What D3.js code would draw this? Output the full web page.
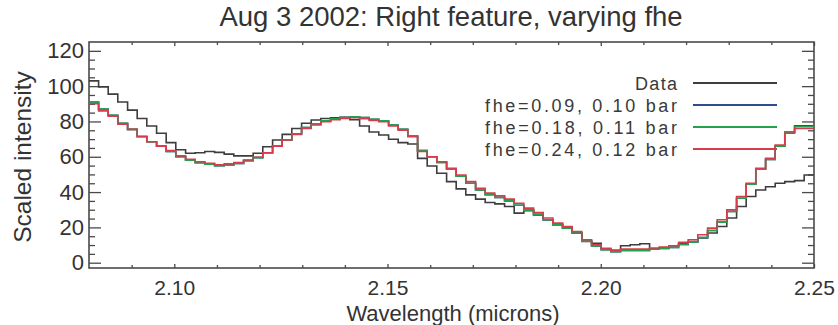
<!DOCTYPE html>
<html><head><meta charset="utf-8">
<script src="https://cdn.jsdelivr.net/npm/d3@7"></script>
<style>html,body{margin:0;padding:0;background:#fff;} svg{display:block;}</style>
</head><body><svg id="c" width="838" height="325"></svg>
<script>
const wavelengths = [2.0811,2.0834,2.0856,2.0879,2.0902,2.0924,2.0947,2.0970,2.0992,2.1015,
2.1038,2.1060,2.1083,2.1106,2.1128,2.1151,2.1174,2.1196,2.1219,2.1242,
2.1264,2.1287,2.1310,2.1332,2.1355,2.1378,2.1400,2.1423,2.1446,2.1468,
2.1491,2.1514,2.1536,2.1559,2.1582,2.1604,2.1627,2.1650,2.1672,2.1695,
2.1718,2.1740,2.1763,2.1786,2.1808,2.1831,2.1854,2.1876,2.1899,2.1922,
2.1944,2.1967,2.1990,2.2012,2.2035,2.2058,2.2080,2.2103,2.2126,2.2148,
2.2171,2.2194,2.2216,2.2239,2.2262,2.2284,2.2307,2.2330,2.2352,2.2375,
2.2398,2.2420,2.2443,2.2466,2.2488];
const dataValues = [103,99.6,95.5,91,86.4,81.7,77.4,73.3,68,64,
62,62.3,63,62.5,61.5,60.5,60.5,62,65.7,69.5,
72.7,76,79,80.8,81.7,82,82.3,81,77.4,74,
72.3,69.9,68,67.2,59.1,54.8,50.7,45.9,41.8,38.4,
36,34.1,33.3,31.8,28.1,29.5,27.1,24.3,22,19.6,
16.8,12,11,8,7,9.6,10.2,10.7,7.7,8.3,
9.6,10.7,12,14,16.8,20.5,25.3,31.8,37.5,41.2,
43,45,45.9,46.5,49.7];
const fit009 = [91,87,83.5,79,75.5,71.5,68.5,66,63,60,
58,56.7,55.8,55,55.4,56.2,57.8,59.5,62.3,66,
69.5,73,76.5,78.5,80.3,81.5,82.2,82.6,82.2,81.2,
80.3,78,75.6,71.8,63.5,60,56.8,53,49,45,
41.2,38.5,37,35,32.5,29.8,27.4,24.3,21.4,19.5,
16.8,12.2,9.5,7.3,6.3,6.9,6.9,7,7.6,8.1,
8.7,10.3,11.8,14.3,18.2,23,29,36.5,44.5,53,
58.5,66,74,77.5,77.5];
const fit018 = [91,87,83.5,79,75.5,71.5,68.5,66,63,60,
58,56.7,55.8,55,55.4,56.2,57.8,59.5,62.3,66,
69.5,73,76.5,78.5,80.3,81.5,82.2,82.6,82.2,81.2,
80.3,78,75.6,71.8,63.5,60,56.8,53,49,45,
41.2,38.5,37,35,32.5,29.8,27.4,24.3,21.4,19.5,
16.8,12.2,9.5,7.3,6.3,6.9,6.9,7,7.6,8.1,
8.7,10.3,11.8,14.3,18.2,23,29,36.5,44.5,53,
58.5,66,74,77,77];
const fit024 = [90,86,83,78.5,75.5,71.4,68.5,66,63.5,60.5,
58.6,57.2,56.3,55.4,56,56.7,58.2,59.7,62.3,66,
69.5,72.7,76,78,79.8,81,81.7,82.1,81.5,80.5,
79.8,77.4,75.1,71.4,63,60,57.2,53.5,49.7,45.9,
42.2,39.4,37.9,36,33.7,30.9,28.4,25.3,22.4,20.5,
17.7,13,10.2,8,7,7.7,7.7,7.7,8.3,8.9,
9.6,11.5,13,15.8,19.6,24.3,29.9,37.5,45,53.5,
59.1,66.7,73.3,76,76];
const yTicks = [0,20,40,60,80,100,120];
const xTicks = [2.10,2.15,2.20,2.25];
const seriesNames = ["Data","fhe=0.09, 0.10 bar","fhe=0.18, 0.11 bar","fhe=0.24, 0.12 bar"];
const seriesColors = ["#3d3d3d","#2e4d8c","#22a24c","#d63c4c"];
const titleText = "Aug 3 2002: Right feature, varying fhe";
const xTitle = "Wavelength (microns)";
const yTitle = "Scaled intensity";

const svg = d3.select("#c");
svg.append("rect").attr("width",838).attr("height",325).attr("fill","#fff");
const m = {left:89, right:814, top:42, bottom:268};
const x = d3.scaleLinear().domain([2.08,2.25]).range([m.left,m.right]);
const y = d3.scaleLinear().domain([-3,125]).range([m.bottom,m.top]);
const axisColor = "#4a4a4a", textColor = "#333";
const font = "'Liberation Sans', Arial, sans-serif";

svg.append("defs").append("clipPath").attr("id","clip")
  .append("rect").attr("x",m.left).attr("y",m.top).attr("width",m.right-m.left).attr("height",m.bottom-m.top);

function styleAxis(g){
  g.select(".domain").remove();
  g.selectAll(".tick line").attr("stroke",axisColor).attr("stroke-width",1.3);
  g.selectAll("text").attr("fill",textColor).style("font-family",font);
}
const yMinor = d3.range(0,125,5).filter(v=>v%20!==0);
const xMinor = d3.range(2.09,2.2501,0.01).filter(v=>!xTicks.some(t=>Math.abs(t-v)<1e-6));

svg.append("g").attr("transform",`translate(${m.left},0)`)
  .call(d3.axisLeft(y).tickValues(yTicks).tickSize(-12).tickPadding(5).tickFormat(d3.format("d")))
  .call(styleAxis).call(g=>g.selectAll("text").style("font-size","22px"));
svg.append("g").attr("transform",`translate(${m.left},0)`)
  .call(d3.axisLeft(y).tickValues(yMinor).tickSize(-6).tickFormat(""))
  .call(styleAxis);
svg.append("g").attr("transform",`translate(${m.right},0)`)
  .call(d3.axisRight(y).tickValues(yTicks).tickSize(-12).tickFormat(""))
  .call(styleAxis);
svg.append("g").attr("transform",`translate(${m.right},0)`)
  .call(d3.axisRight(y).tickValues(yMinor).tickSize(-6).tickFormat(""))
  .call(styleAxis);
svg.append("g").attr("transform",`translate(0,${m.bottom})`)
  .call(d3.axisBottom(x).tickValues(xTicks).tickSize(-4).tickPadding(12).tickFormat(d3.format(".2f")))
  .call(styleAxis).call(g=>g.selectAll("text").style("font-size","21px"));
svg.append("g").attr("transform",`translate(0,${m.bottom})`)
  .call(d3.axisBottom(x).tickValues(xMinor).tickSize(-3).tickFormat(""))
  .call(styleAxis);
svg.append("g").attr("transform",`translate(0,${m.top})`)
  .call(d3.axisTop(x).tickValues(xTicks).tickSize(-4).tickFormat(""))
  .call(styleAxis);
svg.append("g").attr("transform",`translate(0,${m.top})`)
  .call(d3.axisTop(x).tickValues(xMinor).tickSize(-3).tickFormat(""))
  .call(styleAxis);

svg.append("rect").attr("x",m.left).attr("y",m.top).attr("width",m.right-m.left).attr("height",m.bottom-m.top)
  .attr("fill","none").attr("stroke",axisColor).attr("stroke-width",1.6);

const series = [dataValues, fit009, fit018, fit024];
const line = d3.line().x(d=>x(d.w)).y(d=>y(d.v)).curve(d3.curveStep);
series.forEach((vals,si)=>{
  const n = wavelengths.length;
  const pts = wavelengths.map((w,i)=>({w, v: vals[i]}));
  const h0 = (wavelengths[1]-wavelengths[0])/2, h1 = (wavelengths[n-1]-wavelengths[n-2])/2;
  pts.unshift({w: wavelengths[0]-h0, v: vals[0]});
  pts.push({w: wavelengths[n-1]+h1, v: vals[n-1]});
  svg.append("path").attr("clip-path","url(#clip)").attr("d", line(pts))
    .attr("fill","none").attr("stroke",seriesColors[si]).attr("stroke-width",1.6);
});

const legY = [83,105,127,149];
seriesNames.forEach((name,i)=>{
  svg.append("text").attr("x",677).attr("y",legY[i]+6.5).attr("text-anchor","end")
    .attr("fill","#3a3a3a").style("font-family",font).style("font-size","18px")
    .attr("textLength", i===0?42:192).attr("lengthAdjust","spacing").text(name);
  svg.append("line").attr("x1",693).attr("x2",777).attr("y1",legY[i]).attr("y2",legY[i])
    .attr("stroke",seriesColors[i]).attr("stroke-width",2);
});

svg.append("text").attr("x",451).attr("y",26).attr("text-anchor","middle")
  .attr("fill",textColor).style("font-family",font).style("font-size","27.5px").text(titleText);
svg.append("text").attr("x",453).attr("y",321).attr("text-anchor","middle")
  .attr("fill",textColor).style("font-family",font).style("font-size","22px").text(xTitle);
svg.append("text").attr("transform","translate(31,157) rotate(-90)").attr("text-anchor","middle")
  .attr("fill",textColor).style("font-family",font).style("font-size","24.5px").text(yTitle);
</script></body></html>
